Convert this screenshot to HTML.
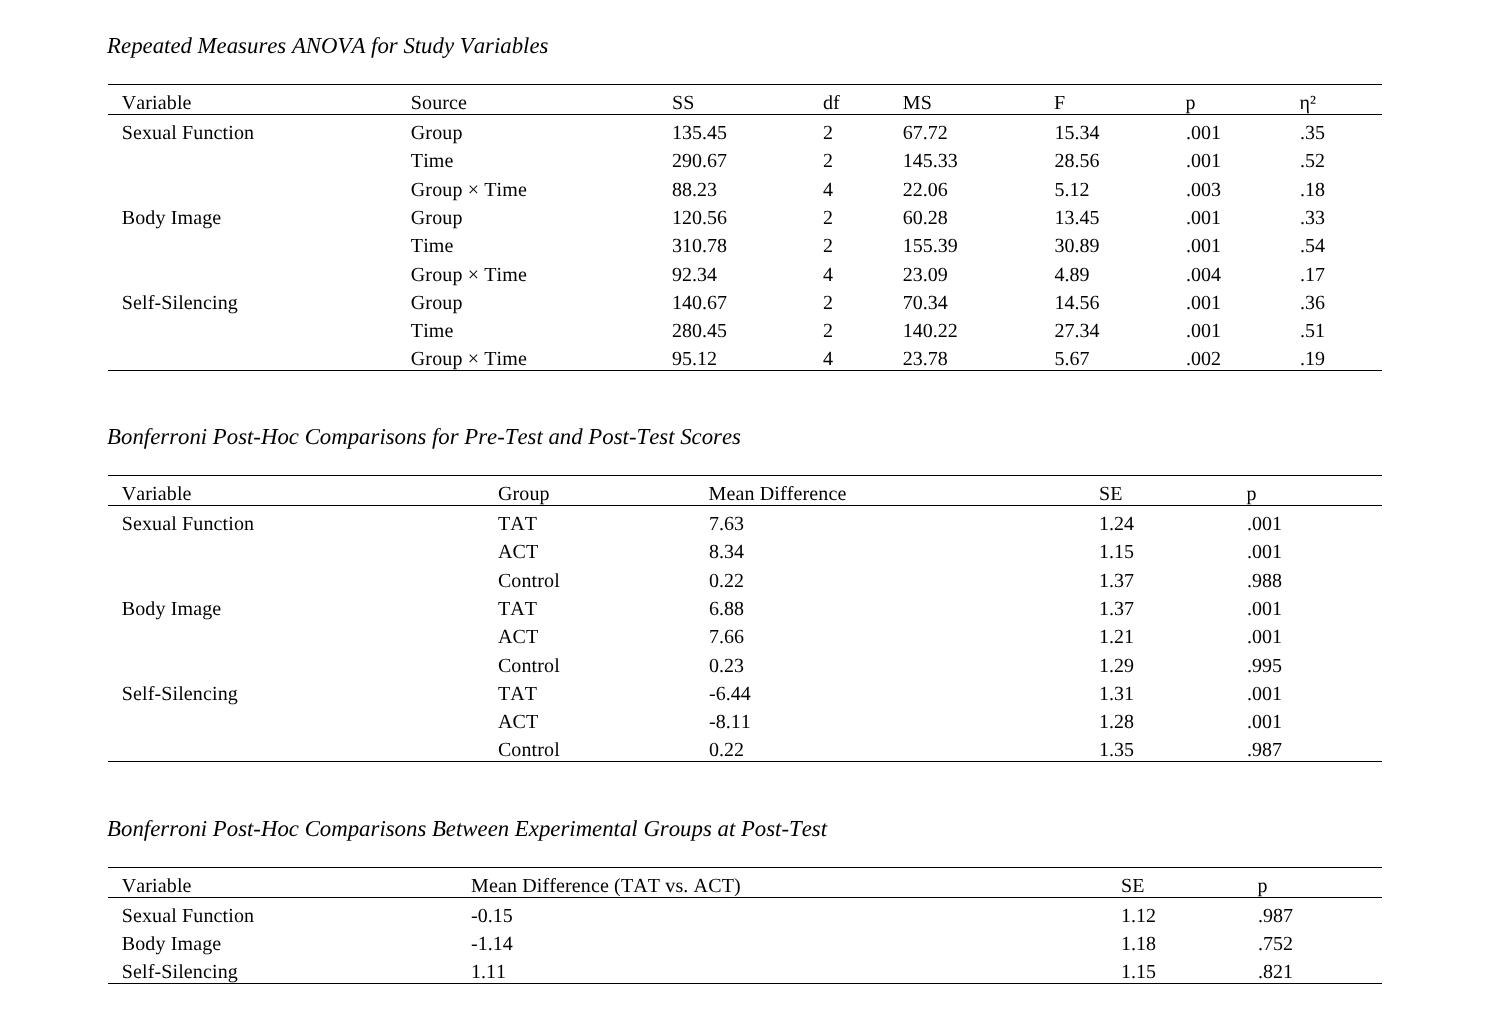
<!DOCTYPE html><html><head><meta charset="utf-8"><title>Tables</title><style>
html,body{margin:0;padding:0;background:#fff}
body{width:1492px;height:1014px;position:relative;overflow:hidden;font-family:"Liberation Serif",serif;color:#000;font-kerning:none;font-variant-ligatures:none;text-rendering:geometricPrecision}
#w{position:absolute;left:0;top:0;width:1492px;height:1014px;will-change:transform}
.t,.n{position:absolute;white-space:nowrap;font-size:20.0px;line-height:24px;height:24px}
.t{letter-spacing:0.13px}
.h{position:absolute;white-space:nowrap;font-size:22.8px;line-height:24px;height:24px;font-style:italic}
.r{position:absolute;left:108px;width:1274px;height:1px;background:#000}

</style></head><body><div id="w">
<span class="h" style="left:107.10px;top:34.00px">Repeated Measures ANOVA for Study Variables</span>
<div class="r" style="top:84px"></div>
<div class="r" style="top:114px"></div>
<div class="r" style="top:370px"></div>
<span class="t" style="left:121.70px;top:91.00px">Variable</span>
<span class="t" style="left:410.80px;top:91.00px">Source</span>
<span class="t" style="left:672.10px;top:91.00px">SS</span>
<span class="t" style="left:822.90px;top:91.00px">df</span>
<span class="t" style="left:902.80px;top:91.00px">MS</span>
<span class="t" style="left:1053.90px;top:91.00px">F</span>
<span class="t" style="left:1185.40px;top:91.00px">p</span>
<span class="t" style="left:1299.50px;top:91.00px">η²</span>
<span class="t" style="left:121.70px;top:121.00px">Sexual Function</span>
<span class="t" style="left:410.80px;top:121.00px">Group</span>
<span class="n" style="left:672.10px;top:121.00px">135.45</span>
<span class="n" style="left:822.90px;top:121.00px">2</span>
<span class="n" style="left:902.80px;top:121.00px">67.72</span>
<span class="n" style="left:1054.50px;top:121.00px">15.34</span>
<span class="n" style="left:1186.00px;top:121.00px">.001</span>
<span class="n" style="left:1300.00px;top:121.00px">.35</span>
<span class="t" style="left:410.80px;top:149.00px">Time</span>
<span class="n" style="left:672.10px;top:149.00px">290.67</span>
<span class="n" style="left:822.90px;top:149.00px">2</span>
<span class="n" style="left:902.80px;top:149.00px">145.33</span>
<span class="n" style="left:1054.50px;top:149.00px">28.56</span>
<span class="n" style="left:1186.00px;top:149.00px">.001</span>
<span class="n" style="left:1300.00px;top:149.00px">.52</span>
<span class="t" style="left:410.80px;top:178.00px">Group × Time</span>
<span class="n" style="left:672.10px;top:178.00px">88.23</span>
<span class="n" style="left:822.90px;top:178.00px">4</span>
<span class="n" style="left:902.80px;top:178.00px">22.06</span>
<span class="n" style="left:1054.50px;top:178.00px">5.12</span>
<span class="n" style="left:1186.00px;top:178.00px">.003</span>
<span class="n" style="left:1300.00px;top:178.00px">.18</span>
<span class="t" style="left:121.70px;top:206.00px">Body Image</span>
<span class="t" style="left:410.80px;top:206.00px">Group</span>
<span class="n" style="left:672.10px;top:206.00px">120.56</span>
<span class="n" style="left:822.90px;top:206.00px">2</span>
<span class="n" style="left:902.80px;top:206.00px">60.28</span>
<span class="n" style="left:1054.50px;top:206.00px">13.45</span>
<span class="n" style="left:1186.00px;top:206.00px">.001</span>
<span class="n" style="left:1300.00px;top:206.00px">.33</span>
<span class="t" style="left:410.80px;top:234.00px">Time</span>
<span class="n" style="left:672.10px;top:234.00px">310.78</span>
<span class="n" style="left:822.90px;top:234.00px">2</span>
<span class="n" style="left:902.80px;top:234.00px">155.39</span>
<span class="n" style="left:1054.50px;top:234.00px">30.89</span>
<span class="n" style="left:1186.00px;top:234.00px">.001</span>
<span class="n" style="left:1300.00px;top:234.00px">.54</span>
<span class="t" style="left:410.80px;top:263.00px">Group × Time</span>
<span class="n" style="left:672.10px;top:263.00px">92.34</span>
<span class="n" style="left:822.90px;top:263.00px">4</span>
<span class="n" style="left:902.80px;top:263.00px">23.09</span>
<span class="n" style="left:1054.50px;top:263.00px">4.89</span>
<span class="n" style="left:1186.00px;top:263.00px">.004</span>
<span class="n" style="left:1300.00px;top:263.00px">.17</span>
<span class="t" style="left:121.70px;top:291.00px">Self-Silencing</span>
<span class="t" style="left:410.80px;top:291.00px">Group</span>
<span class="n" style="left:672.10px;top:291.00px">140.67</span>
<span class="n" style="left:822.90px;top:291.00px">2</span>
<span class="n" style="left:902.80px;top:291.00px">70.34</span>
<span class="n" style="left:1054.50px;top:291.00px">14.56</span>
<span class="n" style="left:1186.00px;top:291.00px">.001</span>
<span class="n" style="left:1300.00px;top:291.00px">.36</span>
<span class="t" style="left:410.80px;top:319.00px">Time</span>
<span class="n" style="left:672.10px;top:319.00px">280.45</span>
<span class="n" style="left:822.90px;top:319.00px">2</span>
<span class="n" style="left:902.80px;top:319.00px">140.22</span>
<span class="n" style="left:1054.50px;top:319.00px">27.34</span>
<span class="n" style="left:1186.00px;top:319.00px">.001</span>
<span class="n" style="left:1300.00px;top:319.00px">.51</span>
<span class="t" style="left:410.80px;top:347.00px">Group × Time</span>
<span class="n" style="left:672.10px;top:347.00px">95.12</span>
<span class="n" style="left:822.90px;top:347.00px">4</span>
<span class="n" style="left:902.80px;top:347.00px">23.78</span>
<span class="n" style="left:1054.50px;top:347.00px">5.67</span>
<span class="n" style="left:1186.00px;top:347.00px">.002</span>
<span class="n" style="left:1300.00px;top:347.00px">.19</span>
<span class="h" style="left:107.10px;top:425.00px">Bonferroni Post-Hoc Comparisons for Pre-Test and Post-Test Scores</span>
<div class="r" style="top:475px"></div>
<div class="r" style="top:505px"></div>
<div class="r" style="top:761px"></div>
<span class="t" style="left:121.70px;top:482.00px">Variable</span>
<span class="t" style="left:497.90px;top:482.00px">Group</span>
<span class="t" style="left:708.50px;top:482.00px">Mean Difference</span>
<span class="t" style="left:1099.00px;top:482.00px">SE</span>
<span class="t" style="left:1246.40px;top:482.00px">p</span>
<span class="t" style="left:121.70px;top:512.00px">Sexual Function</span>
<span class="t" style="left:497.90px;top:512.00px">TAT</span>
<span class="n" style="left:709.00px;top:512.00px">7.63</span>
<span class="n" style="left:1099.00px;top:512.00px">1.24</span>
<span class="n" style="left:1247.00px;top:512.00px">.001</span>
<span class="t" style="left:497.90px;top:540.00px">ACT</span>
<span class="n" style="left:709.00px;top:540.00px">8.34</span>
<span class="n" style="left:1099.00px;top:540.00px">1.15</span>
<span class="n" style="left:1247.00px;top:540.00px">.001</span>
<span class="t" style="left:497.90px;top:569.00px">Control</span>
<span class="n" style="left:709.00px;top:569.00px">0.22</span>
<span class="n" style="left:1099.00px;top:569.00px">1.37</span>
<span class="n" style="left:1247.00px;top:569.00px">.988</span>
<span class="t" style="left:121.70px;top:597.00px">Body Image</span>
<span class="t" style="left:497.90px;top:597.00px">TAT</span>
<span class="n" style="left:709.00px;top:597.00px">6.88</span>
<span class="n" style="left:1099.00px;top:597.00px">1.37</span>
<span class="n" style="left:1247.00px;top:597.00px">.001</span>
<span class="t" style="left:497.90px;top:625.00px">ACT</span>
<span class="n" style="left:709.00px;top:625.00px">7.66</span>
<span class="n" style="left:1099.00px;top:625.00px">1.21</span>
<span class="n" style="left:1247.00px;top:625.00px">.001</span>
<span class="t" style="left:497.90px;top:654.00px">Control</span>
<span class="n" style="left:709.00px;top:654.00px">0.23</span>
<span class="n" style="left:1099.00px;top:654.00px">1.29</span>
<span class="n" style="left:1247.00px;top:654.00px">.995</span>
<span class="t" style="left:121.70px;top:682.00px">Self-Silencing</span>
<span class="t" style="left:497.90px;top:682.00px">TAT</span>
<span class="n" style="left:709.00px;top:682.00px">-6.44</span>
<span class="n" style="left:1099.00px;top:682.00px">1.31</span>
<span class="n" style="left:1247.00px;top:682.00px">.001</span>
<span class="t" style="left:497.90px;top:710.00px">ACT</span>
<span class="n" style="left:709.00px;top:710.00px">-8.11</span>
<span class="n" style="left:1099.00px;top:710.00px">1.28</span>
<span class="n" style="left:1247.00px;top:710.00px">.001</span>
<span class="t" style="left:497.90px;top:738.00px">Control</span>
<span class="n" style="left:709.00px;top:738.00px">0.22</span>
<span class="n" style="left:1099.00px;top:738.00px">1.35</span>
<span class="n" style="left:1247.00px;top:738.00px">.987</span>
<span class="h" style="left:107.10px;top:817.00px">Bonferroni Post-Hoc Comparisons Between Experimental Groups at Post-Test</span>
<div class="r" style="top:867px"></div>
<div class="r" style="top:897px"></div>
<div class="r" style="top:983px"></div>
<span class="t" style="left:121.70px;top:874.00px">Variable</span>
<span class="t" style="left:471.00px;top:874.00px">Mean Difference (TAT vs. ACT)</span>
<span class="t" style="left:1121.00px;top:874.00px">SE</span>
<span class="t" style="left:1257.40px;top:874.00px">p</span>
<span class="t" style="left:121.70px;top:904.00px">Sexual Function</span>
<span class="n" style="left:471.00px;top:904.00px">-0.15</span>
<span class="n" style="left:1121.00px;top:904.00px">1.12</span>
<span class="n" style="left:1258.00px;top:904.00px">.987</span>
<span class="t" style="left:121.70px;top:932.00px">Body Image</span>
<span class="n" style="left:471.00px;top:932.00px">-1.14</span>
<span class="n" style="left:1121.00px;top:932.00px">1.18</span>
<span class="n" style="left:1258.00px;top:932.00px">.752</span>
<span class="t" style="left:121.70px;top:960.00px">Self-Silencing</span>
<span class="n" style="left:471.00px;top:960.00px">1.11</span>
<span class="n" style="left:1121.00px;top:960.00px">1.15</span>
<span class="n" style="left:1258.00px;top:960.00px">.821</span>
</div></body></html>
